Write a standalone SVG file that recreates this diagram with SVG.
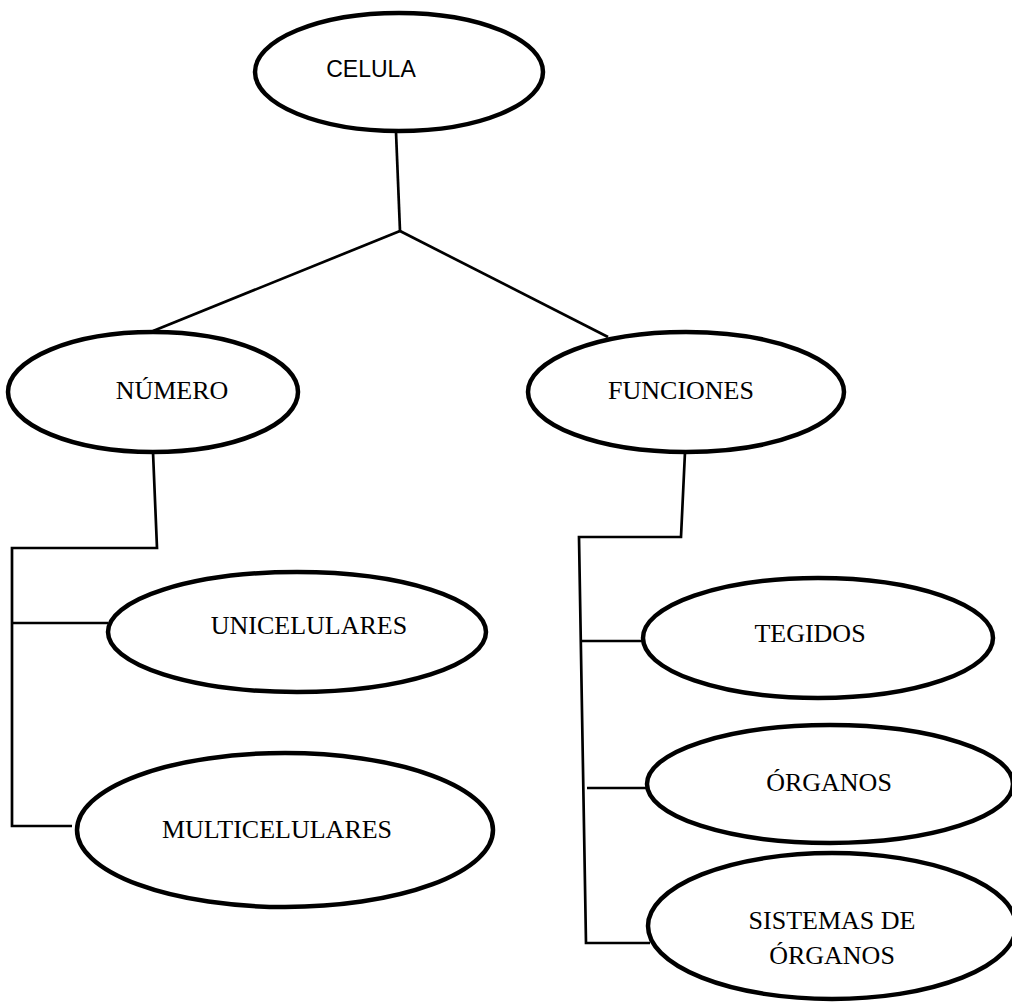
<svg xmlns="http://www.w3.org/2000/svg" width="1012" height="1003" viewBox="0 0 1012 1003">
<style>
.node ellipse{fill:#fff;stroke:#000;stroke-width:4.5}
.t{font-family:"Liberation Serif","Times New Roman",serif;font-size:26px;fill:#000;text-anchor:middle}
.s{font-family:"Liberation Sans",Arial,sans-serif;font-size:23px;fill:#000;text-anchor:middle}
#connectors path{fill:none;stroke:#000;stroke-width:2.7;stroke-linejoin:miter}
</style>
<rect width="1012" height="1003" fill="#fff"/>
<g id="connectors">
<path d="M396,132 L400,231"/>
<path d="M400,231 L153,331"/>
<path d="M400,231 L608,337"/>
<path d="M153,452 L157,548 L12,548 L12,826 L72,826"/>
<path d="M12,623 L108,623"/>
<path d="M685,452 L681,537 L579,537 L586,943 L650,943"/>
<path d="M580,641 L643,641"/>
<path d="M587,788 L647,788"/>
</g>
<g id="celula" class="node"><ellipse cx="399" cy="72" rx="144" ry="59"/><text class="s" x="371" y="77">CELULA</text></g>
<g id="numero" class="node"><ellipse cx="153" cy="392" rx="145" ry="60"/><text class="t" x="172" y="399">NÚMERO</text></g>
<g id="funciones" class="node"><ellipse cx="686" cy="392" rx="158" ry="60"/><text class="t" x="681" y="399">FUNCIONES</text></g>
<g id="unicelulares" class="node"><ellipse cx="297" cy="632" rx="189" ry="60"/><text class="t" x="309" y="634">UNICELULARES</text></g>
<g id="multicelulares" class="node"><ellipse cx="285" cy="830" rx="208" ry="77"/><text class="t" x="277" y="838">MULTICELULARES</text></g>
<g id="tegidos" class="node"><ellipse cx="818" cy="638" rx="175" ry="60"/><text class="t" x="810" y="642">TEGIDOS</text></g>
<g id="organos" class="node"><ellipse cx="830" cy="784" rx="183" ry="59"/><text class="t" x="829" y="791">ÓRGANOS</text></g>
<g id="sistemas" class="node"><ellipse cx="832" cy="926" rx="184" ry="73"/><text class="t" x="832" y="929">SISTEMAS DE</text><text class="t" x="832" y="964">ÓRGANOS</text></g>
</svg>
